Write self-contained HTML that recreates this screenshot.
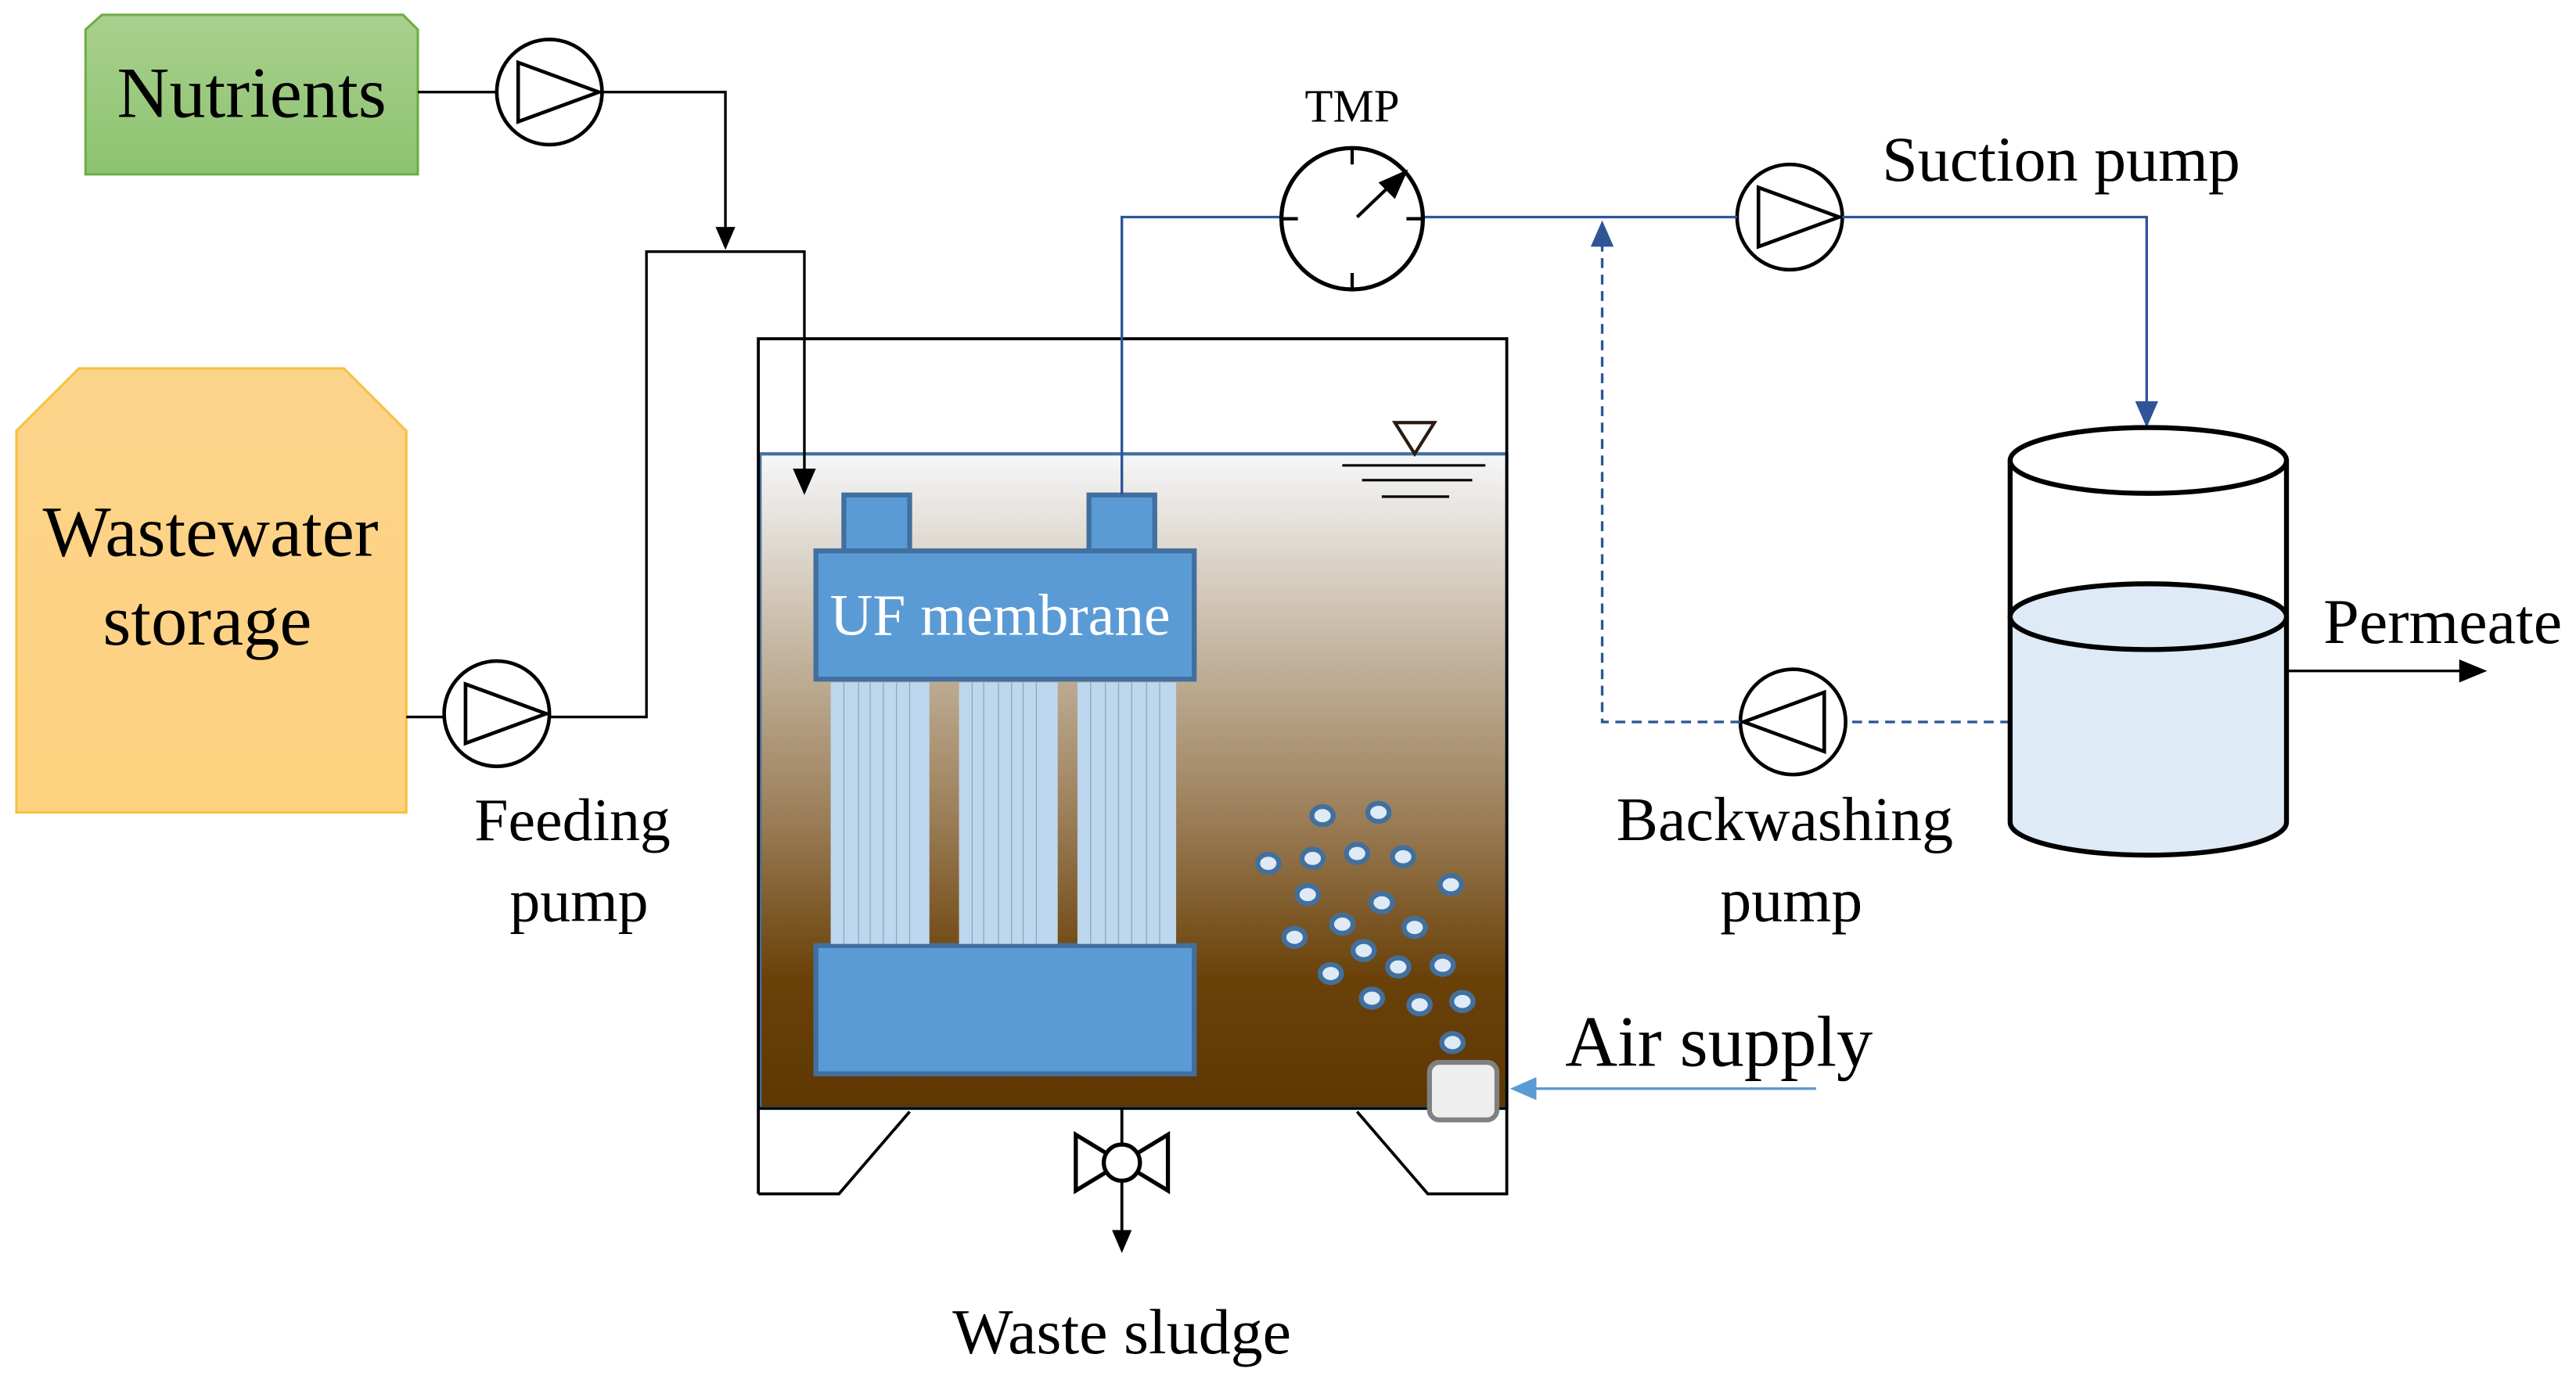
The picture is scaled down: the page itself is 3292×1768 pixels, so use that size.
<!DOCTYPE html>
<html><head><meta charset="utf-8"><style>html,body{margin:0;padding:0;background:#fff}svg{display:block}</style></head>
<body>
<svg width="3292" height="1768" viewBox="0 0 1566 841" preserveAspectRatio="none" xmlns="http://www.w3.org/2000/svg" font-family="Liberation Serif, serif">
<defs>
<linearGradient id="mud" x1="0" y1="0" x2="0" y2="1">
<stop offset="0" stop-color="#f6f7f9"/><stop offset="0.3" stop-color="#c4b5a0"/><stop offset="0.55" stop-color="#9c7f59"/><stop offset="0.8" stop-color="#6a4109"/><stop offset="1" stop-color="#5e3702"/>
</linearGradient>
<linearGradient id="gr" x1="0" y1="0" x2="0" y2="1"><stop offset="0" stop-color="#a9d08e"/><stop offset="1" stop-color="#8cc36f"/></linearGradient>
<linearGradient id="yl" x1="0" y1="0" x2="0" y2="1"><stop offset="0" stop-color="#fcd38a"/><stop offset="1" stop-color="#ffd280"/></linearGradient>
</defs>
<!-- Nutrients -->
<path d="M52,18 L62,9 L245,9 L254,18 L254,106 L52,106Z" fill="url(#gr)" stroke="#70ad47" stroke-width="1.5"/>
<text x="153" y="71" font-size="44" text-anchor="middle">Nutrients</text>
<!-- Wastewater -->
<path d="M10,262 L48,224 L209,224 L247,262 L247,494 L10,494Z" fill="url(#yl)" stroke="#f5c242" stroke-width="1.5"/>
<text x="128" y="338" font-size="44" text-anchor="middle">Wastewater</text>
<text x="126" y="392" font-size="44" text-anchor="middle">storage</text>
<!-- tank -->
<rect x="462" y="276" width="454" height="398" fill="url(#mud)" stroke="#41709f" stroke-width="2"/>
<path d="M461,726 V206 H916 V726 H868 L825,676 M553,676 L510,726 H461" fill="none" stroke="#000" stroke-width="1.8"/>
<path d="M461,674 H916" stroke="#000" stroke-width="1.5"/>
<!-- feed lines -->
<g fill="none" stroke="#000" stroke-width="1.6">
<path d="M254,56 H302"/><path d="M366,56 H441 V138"/>
<path d="M247,436 H270"/><path d="M334,436 H393 V153 H489 V290"/>
</g>
<path d="M441,152 L435,138 L447,138Z" fill="#000"/>
<path d="M489,301 L482,285 L496,285Z" fill="#000"/>
<!-- pumps -->
<g fill="#fff" stroke="#000" stroke-width="2.2">
<circle cx="334" cy="56" r="32"/><path d="M315,38 L364,56 L315,74Z" fill="none"/>
<circle cx="302" cy="434" r="32"/><path d="M283,416 L332,434 L283,452Z" fill="none"/>
<circle cx="1088" cy="132" r="32"/><path d="M1069,114 L1118,132 L1069,150Z" fill="none"/>
<circle cx="1090" cy="439" r="32"/><path d="M1109,421 L1060,439 L1109,457Z" fill="none"/>
</g>
<text x="348" y="511" font-size="37" text-anchor="middle">Feeding</text>
<text x="352" y="560" font-size="37" text-anchor="middle">pump</text>
<!-- water level -->
<path d="M848,257 H872 L860,276Z" fill="none" stroke="#2a1a10" stroke-width="2"/>
<path d="M816,283 H903 M828,292 H895 M840,302 H881" stroke="#000" stroke-width="1.5"/>
<!-- membrane -->
<g fill="#5b9bd5" stroke="#41709f" stroke-width="3">
<rect x="513" y="301" width="40" height="34"/><rect x="662" y="301" width="40" height="34"/>
<rect x="496" y="335" width="230" height="78"/>
<rect x="496" y="575" width="230" height="78"/>
</g>
<g fill="#bdd7ee">
<rect x="505" y="415" width="60" height="159"/><rect x="583" y="415" width="60" height="159"/><rect x="655" y="415" width="60" height="159"/>
</g>
<g stroke="#8fa5b8" stroke-width="0.6">
<path d="M513,415V574M522,415V574M529,415V574M537,415V574M545,415V574M553,415V574M591,415V574M598,415V574M607,415V574M615,415V574M622,415V574M630,415V574M663,415V574M672,415V574M680,415V574M688,415V574M697,415V574M705,415V574"/>
</g>
<text x="608" y="386" font-size="36" fill="#fff" text-anchor="middle">UF membrane</text>
<!-- bubbles -->
<g fill="#deeaf6" stroke="#41709f" stroke-width="3">
<ellipse cx="804" cy="496" rx="6.5" ry="5.5"/><ellipse cx="838" cy="494" rx="6.5" ry="5.5"/><ellipse cx="771" cy="525" rx="6.5" ry="5.5"/><ellipse cx="798" cy="522" rx="6.5" ry="5.5"/><ellipse cx="825" cy="519" rx="6.5" ry="5.5"/><ellipse cx="853" cy="521" rx="6.5" ry="5.5"/><ellipse cx="882" cy="538" rx="6.5" ry="5.5"/><ellipse cx="795" cy="544" rx="6.5" ry="5.5"/><ellipse cx="840" cy="549" rx="6.5" ry="5.5"/><ellipse cx="860" cy="564" rx="6.5" ry="5.5"/><ellipse cx="816" cy="562" rx="6.5" ry="5.5"/><ellipse cx="787" cy="570" rx="6.5" ry="5.5"/><ellipse cx="829" cy="578" rx="6.5" ry="5.5"/><ellipse cx="850" cy="588" rx="6.5" ry="5.5"/><ellipse cx="877" cy="587" rx="6.5" ry="5.5"/><ellipse cx="809" cy="592" rx="6.5" ry="5.5"/><ellipse cx="834" cy="607" rx="6.5" ry="5.5"/><ellipse cx="863" cy="611" rx="6.5" ry="5.5"/><ellipse cx="889" cy="609" rx="6.5" ry="5.5"/><ellipse cx="883" cy="634" rx="6.5" ry="5.5"/>
</g>
<rect x="869" y="646" width="41" height="35" rx="6" fill="#eee" stroke="#808080" stroke-width="3"/>
<!-- air supply -->
<path d="M1104,662 H932" stroke="#5b9bd5" stroke-width="1.6"/>
<path d="M918,662 L934,655 L934,669Z" fill="#5b9bd5"/>
<text x="1045" y="648" font-size="44" text-anchor="middle">Air supply</text>
<!-- valve -->
<path d="M682,674 V696" stroke="#000" stroke-width="1.8"/>
<path d="M654,690 L710,724 V690 L654,724Z" fill="#fff" stroke="#000" stroke-width="2.5"/>
<circle cx="682" cy="707" r="11" fill="#fff" stroke="#000" stroke-width="2.5"/>
<path d="M682,718 V750" stroke="#000" stroke-width="1.8"/>
<path d="M682,762 L676,748 L688,748Z" fill="#000"/>
<text x="682" y="823" font-size="39" text-anchor="middle">Waste sludge</text>
<!-- blue lines -->
<g fill="none" stroke="#2f5597" stroke-width="1.6">
<path d="M682,301 V132 H780"/><path d="M866,132 H1056"/><path d="M1120,132 H1305 V250"/>
<path d="M1222,439 H1122 M1058,439 H974 V148" stroke-dasharray="6,4"/>
</g>
<path d="M1305,260 L1298,244 L1312,244Z" fill="#2f5597"/>
<path d="M974,134 L967,150 L981,150Z" fill="#2f5597"/>
<!-- TMP -->
<circle cx="822" cy="133" r="43" fill="#fff" stroke="#000" stroke-width="2.5"/>
<g stroke="#000" stroke-width="2"><path d="M822,90V100M822,166V176M779,133H789M855,133H865"/></g>
<path d="M825,132 L848,110" stroke="#000" stroke-width="2"/><path d="M856,103 L838,111 L848,121Z" fill="#000"/>
<text x="822" y="74" font-size="28" text-anchor="middle">TMP</text>
<text x="1253" y="110" font-size="39" text-anchor="middle">Suction pump</text>
<text x="1085" y="511" font-size="38" text-anchor="middle">Backwashing</text>
<text x="1089" y="560" font-size="38" text-anchor="middle">pump</text>
<!-- permeate tank -->
<path d="M1222,375 A84,20 0 0 1 1390,375 V500 A84,20 0 0 1 1222,500Z" fill="#deeaf6"/>
<path d="M1222,280 V500 A84,20 0 0 0 1390,500 V280" fill="none" stroke="#000" stroke-width="3"/>
<ellipse cx="1306" cy="375" rx="84" ry="20" fill="#deeaf6" stroke="#000" stroke-width="3"/>
<ellipse cx="1306" cy="280" rx="84" ry="20" fill="#fff" stroke="#000" stroke-width="3"/>
<path d="M1390,408 H1498" stroke="#000" stroke-width="1.6"/><path d="M1512,408 L1495,401 L1495,415Z" fill="#000"/>
<text x="1485" y="391" font-size="39" text-anchor="middle">Permeate</text>
</svg>
</body></html>
